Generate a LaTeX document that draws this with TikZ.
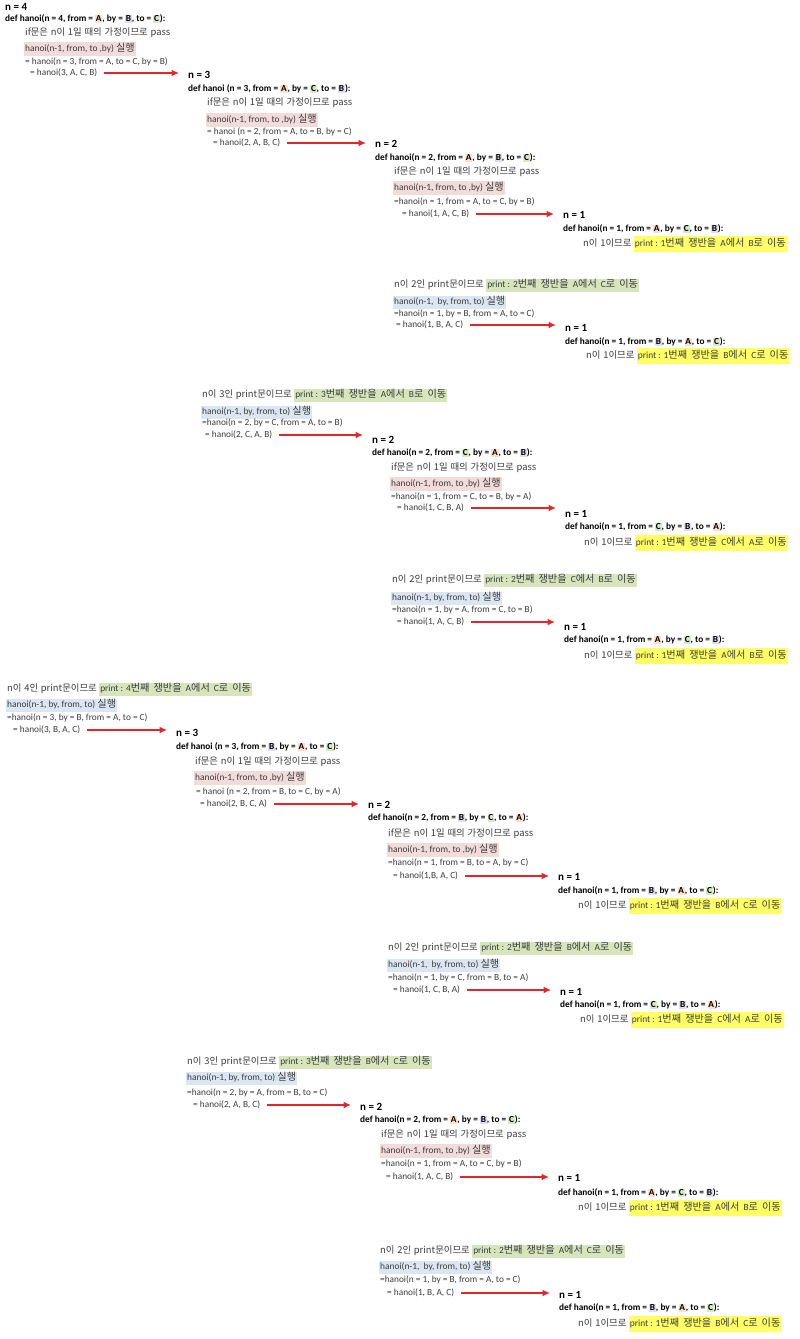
\documentclass[tikz,border=0pt]{standalone}
\usepackage{fontspec}
\setmainfont{Carlito}
\newfontfamily\ko{Noto Sans CJK KR}[WordSpace=1.3]
\newfontfamily\kob{Noto Sans CJK KR}[Scale=1.08,WordSpace=1.8]
\usetikzlibrary{arrows.meta,calc}
\definecolor{cA}{HTML}{FBE0CC}
\definecolor{cB}{HTML}{E2DDEC}
\definecolor{cC}{HTML}{D9E8C6}
\definecolor{pk}{HTML}{F2DCDB}
\definecolor{blu}{HTML}{DCE6F2}
\definecolor{grn}{HTML}{D8E4BC}
\definecolor{yel}{HTML}{FFFF66}
\definecolor{arrred}{HTML}{E3262A}
\definecolor{txt}{HTML}{3C3C3C}
\newcommand\hl[1]{{\setlength\fboxsep{0.8pt}\colorbox{c#1}{#1}}}
\newcommand\IfT{{\ko if문은 n이 1일 때의 가정이므로 pass}}
\newcommand\PkT{hanoi(n-1, from, to ,by) {\kob 실행}}
\newcommand\BlT{hanoi(n-1, by, from, to) {\kob 실행}}
\newcommand\BlTT{hanoi(n-1,\ \ by, from, to) {\kob 실행}}
\newcommand\PrT[3]{print : #1{\kob 번째 쟁반을 }#2{\kob 에서 }#3{\kob 로 이동}}
\newcommand\NumT[1]{{\ko n이 #1인 print문이므로}}
\newcommand\OneT{{\ko n이 1이므로}}
\tikzset{
  base/.style={inner sep=0pt, anchor=west, text=txt},
  hdr/.style={base, font=\fontsize{11}{13}\selectfont\bfseries, text=black},
  defl/.style={base, font=\fontsize{9.3}{11}\selectfont\bfseries, text=black},
  kor/.style={base, font=\fontsize{9.4}{11}\selectfont},
  eql/.style={base, font=\fontsize{9.3}{11}\selectfont},
  pkl/.style={base, fill=pk, inner xsep=1pt, inner ysep=2pt, text height=7.5pt, text depth=2.5pt, font=\fontsize{9.4}{11}\selectfont},
  bll/.style={base, fill=blu, inner xsep=1pt, inner ysep=1.5pt, text height=7.5pt, text depth=2.5pt, font=\fontsize{9.4}{11}\selectfont},
  grl/.style={inner xsep=1pt, inner ysep=1.5pt, anchor=base west, fill=grn, text=txt, text height=7.5pt, text depth=2.5pt, font=\fontsize{9.4}{11}\selectfont},
  yll/.style={inner xsep=1pt, inner ysep=3pt, anchor=base west, fill=yel, text=txt, text height=7.5pt, text depth=2.5pt, font=\fontsize{9.4}{11}\selectfont},
  arr/.style={draw=arrred, line width=1.6pt, -{Latex[length=7.5pt,width=7pt]}},
}
\newcommand\Arr[2]{\draw[arr] ($(#1.east)+(7pt,0)$) -- ($(#1.east -| #2.west)+(-9pt,0)$);}
\begin{document}
\begin{tikzpicture}[x=1pt,y=-1pt]
\useasboundingbox[fill=white] (0,0) rectangle (800,1339);
% ---- n=4
\node[hdr] (a-h) at (5,7) {n = 4};
\node[defl] (a-d) at (5,19) {def hanoi(n = 4, from = \hl A, by = \hl B, to = \hl C):};
\node[kor] (a-i) at (25,33) {\IfT};
\node[pkl] (a-p) at (24,49) {\PkT};
\node[eql] (a-e1) at (25,62) {= hanoi(n = 3, from = A, to = C, by = B)};
\node[eql] (a-e2) at (30,73) {= hanoi(3, A, C, B)};
% ---- n=3
\node[hdr] (b-h) at (188,75) {n = 3};
\node[defl] (b-d) at (188,89) {def hanoi (n = 3, from = \hl A, by = \hl C, to = \hl B):};
\node[kor] (b-i) at (207,103) {\IfT};
\node[pkl] (b-p) at (206,120) {\PkT};
\node[eql] (b-e1) at (207,132) {= hanoi (n = 2, from = A, to = B, by = C)};
\node[eql] (b-e2) at (213,143) {= hanoi(2, A, B, C)};
% ---- n=2
\node[hdr] (c-h) at (375,144) {n = 2};
\node[defl] (c-d) at (375,158) {def hanoi(n = 2, from = \hl A, by = \hl B, to = \hl C):};
\node[kor] (c-i) at (394,172) {\IfT};
\node[pkl] (c-p) at (393,188) {\PkT};
\node[eql] (c-e1) at (394,202) {=hanoi(n = 1, from = A, to = C, by = B)};
\node[eql] (c-e2) at (402,214) {= hanoi(1, A, C, B)};
% ---- n=1
\node[hdr] (d-h) at (563,215) {n = 1};
\node[defl] (d-d) at (563,229) {def hanoi(n = 1, from = \hl A, by = \hl C, to = \hl B):};
\node[kor] (d-o) at (583,243) {\OneT};
\node[yll] (d-y) at ([xshift=2pt]d-o.base east) {\PrT 1AB};
% ---- second half n=2
\node[kor] (e-l) at (394,285) {\NumT2};
\node[grl] (e-g) at ([xshift=2pt]e-l.base east) {\PrT 2AC};
\node[bll] (e-b) at (393,302) {\BlTT};
\node[eql] (e-e1) at (394,314) {=hanoi(n = 1, by = B, from = A, to = C)};
\node[eql] (e-e2) at (396,325) {= hanoi(1, B, A, C)};
\node[hdr] (f-h) at (565,328) {n = 1};
\node[defl] (f-d) at (565,342) {def hanoi(n = 1, from = \hl B, by = \hl A, to = \hl C):};
\node[kor] (f-o) at (586,355) {\OneT};
\node[yll] (f-y) at ([xshift=2pt]f-o.base east) {\PrT 1BC};
% ---- second half n=3
\node[kor] (g-l) at (202,395) {\NumT3};
\node[grl] (g-g) at ([xshift=2pt]g-l.base east) {\PrT 3AB};
\node[bll] (g-b) at (201,412) {\BlT};
\node[eql] (g-e1) at (202,423) {=hanoi(n = 2, by = C, from = A, to = B)};
\node[eql] (g-e2) at (205,435) {= hanoi(2, C, A, B)};
\node[hdr] (h-h) at (372,440) {n = 2};
\node[defl] (h-d) at (372,453) {def hanoi(n = 2, from = \hl C, by = \hl A, to = \hl B):};
\node[kor] (h-i) at (391,468) {\IfT};
\node[pkl] (h-p) at (390,484) {\PkT};
\node[eql] (h-e1) at (391,497) {=hanoi(n = 1, from = C, to = B, by = A)};
\node[eql] (h-e2) at (397,508) {= hanoi(1, C, B, A)};
\node[hdr] (i-h) at (565,514) {n = 1};
\node[defl] (i-d) at (565,527) {def hanoi(n = 1, from = \hl C, by = \hl B, to = \hl A):};
\node[kor] (i-o) at (584,542) {\OneT};
\node[yll] (i-y) at ([xshift=2pt]i-o.base east) {\PrT 1CA};
\node[kor] (j-l) at (392,580) {\NumT2};
\node[grl] (j-g) at ([xshift=2pt]j-l.base east) {\PrT 2CB};
\node[bll] (j-b) at (391,598) {\BlT};
\node[eql] (j-e1) at (392,610) {=hanoi(n = 1, by = A, from = C, to = B)};
\node[eql] (j-e2) at (397,622) {= hanoi(1, A, C, B)};
\node[hdr] (k-h) at (564,627) {n = 1};
\node[defl] (k-d) at (564,640) {def hanoi(n = 1, from = \hl A, by = \hl C, to = \hl B):};
\node[kor] (k-o) at (584,655) {\OneT};
\node[yll] (k-y) at ([xshift=2pt]k-o.base east) {\PrT 1AB};
% ---- second half n=4
\node[kor] (l-l) at (7,689) {\NumT4};
\node[grl] (l-g) at ([xshift=2pt]l-l.base east) {\PrT 4AC};
\node[bll] (l-b) at (6,705) {\BlT};
\node[eql] (l-e1) at (7,718) {=hanoi(n = 3, by = B, from = A, to = C)};
\node[eql] (l-e2) at (13,730) {= hanoi(3, B, A, C)};
\node[hdr] (m-h) at (176,733) {n = 3};
\node[defl] (m-d) at (176,747) {def hanoi (n = 3, from = \hl B, by = \hl A, to = \hl C):};
\node[kor] (m-i) at (195,762) {\IfT};
\node[pkl] (m-p) at (194,778) {\PkT};
\node[eql] (m-e1) at (196,792) {= hanoi (n = 2, from = B, to = C, by = A)};
\node[eql] (m-e2) at (200,804) {= hanoi(2, B, C, A)};
\node[hdr] (n-h) at (368,805) {n = 2};
\node[defl] (n-d) at (368,818) {def hanoi(n = 2, from = \hl B, by = \hl C, to = \hl A):};
\node[kor] (n-i) at (388,834) {\IfT};
\node[pkl] (n-p) at (387,850) {\PkT};
\node[eql] (n-e1) at (388,863) {=hanoi(n = 1, from = B, to = A, by = C)};
\node[eql] (n-e2) at (393,876) {= hanoi(1,B, A, C)};
\node[hdr] (o-h) at (558,877) {n = 1};
\node[defl] (o-d) at (558,891) {def hanoi(n = 1, from = \hl B, by = \hl A, to = \hl C):};
\node[kor] (o-o) at (578,905) {\OneT};
\node[yll] (o-y) at ([xshift=2pt]o-o.base east) {\PrT 1BC};
\node[kor] (p-l) at (388,948) {\NumT2};
\node[grl] (p-g) at ([xshift=2pt]p-l.base east) {\PrT 2BA};
\node[bll] (p-b) at (387,965) {\BlTT};
\node[eql] (p-e1) at (388,978) {=hanoi(n = 1, by = C, from = B, to = A)};
\node[eql] (p-e2) at (393,990) {= hanoi(1, C, B, A)};
\node[hdr] (q-h) at (560,992) {n = 1};
\node[defl] (q-d) at (560,1005) {def hanoi(n = 1, from = \hl C, by = \hl B, to = \hl A):};
\node[kor] (q-o) at (580,1019) {\OneT};
\node[yll] (q-y) at ([xshift=2pt]q-o.base east) {\PrT 1CA};
\node[kor] (r-l) at (187,1062) {\NumT3};
\node[grl] (r-g) at ([xshift=2pt]r-l.base east) {\PrT 3BC};
\node[bll] (r-b) at (186,1078) {\BlT};
\node[eql] (r-e1) at (187,1093) {=hanoi(n = 2, by = A, from = B, to = C)};
\node[eql] (r-e2) at (193,1105) {= hanoi(2, A, B, C)};
\node[hdr] (s-h) at (360,1107) {n = 2};
\node[defl] (s-d) at (360,1120) {def hanoi(n = 2, from = \hl A, by = \hl B, to = \hl C):};
\node[kor] (s-i) at (381,1135) {\IfT};
\node[pkl] (s-p) at (380,1151) {\PkT};
\node[eql] (s-e1) at (381,1164) {=hanoi(n = 1, from = A, to = C, by = B)};
\node[eql] (s-e2) at (386,1177) {= hanoi(1, A, C, B)};
\node[hdr] (t-h) at (558,1178) {n = 1};
\node[defl] (t-d) at (558,1193) {def hanoi(n = 1, from = \hl A, by = \hl C, to = \hl B):};
\node[kor] (t-o) at (578,1207) {\OneT};
\node[yll] (t-y) at ([xshift=2pt]t-o.base east) {\PrT 1AB};
\node[kor] (u-l) at (380,1251) {\NumT2};
\node[grl] (u-g) at ([xshift=2pt]u-l.base east) {\PrT 2AC};
\node[bll] (u-b) at (379,1267) {\BlTT};
\node[eql] (u-e1) at (380,1280) {=hanoi(n = 1, by = B, from = A, to = C)};
\node[eql] (u-e2) at (387,1293) {= hanoi(1, B, A, C)};
\node[hdr] (v-h) at (559,1295) {n = 1};
\node[defl] (v-d) at (559,1308) {def hanoi(n = 1, from = \hl B, by = \hl A, to = \hl C):};
\node[kor] (v-o) at (578,1323) {\OneT};
\node[yll] (v-y) at ([xshift=2pt]v-o.base east) {\PrT 1BC};
% ---- arrows
\Arr{a-e2}{b-h}
\Arr{b-e2}{c-h}
\Arr{c-e2}{d-h}
\Arr{e-e2}{f-h}
\Arr{g-e2}{h-h}
\Arr{h-e2}{i-h}
\Arr{j-e2}{k-h}
\Arr{l-e2}{m-h}
\Arr{m-e2}{n-h}
\Arr{n-e2}{o-h}
\Arr{p-e2}{q-h}
\Arr{r-e2}{s-h}
\Arr{s-e2}{t-h}
\Arr{u-e2}{v-h}
\end{tikzpicture}
\end{document}
